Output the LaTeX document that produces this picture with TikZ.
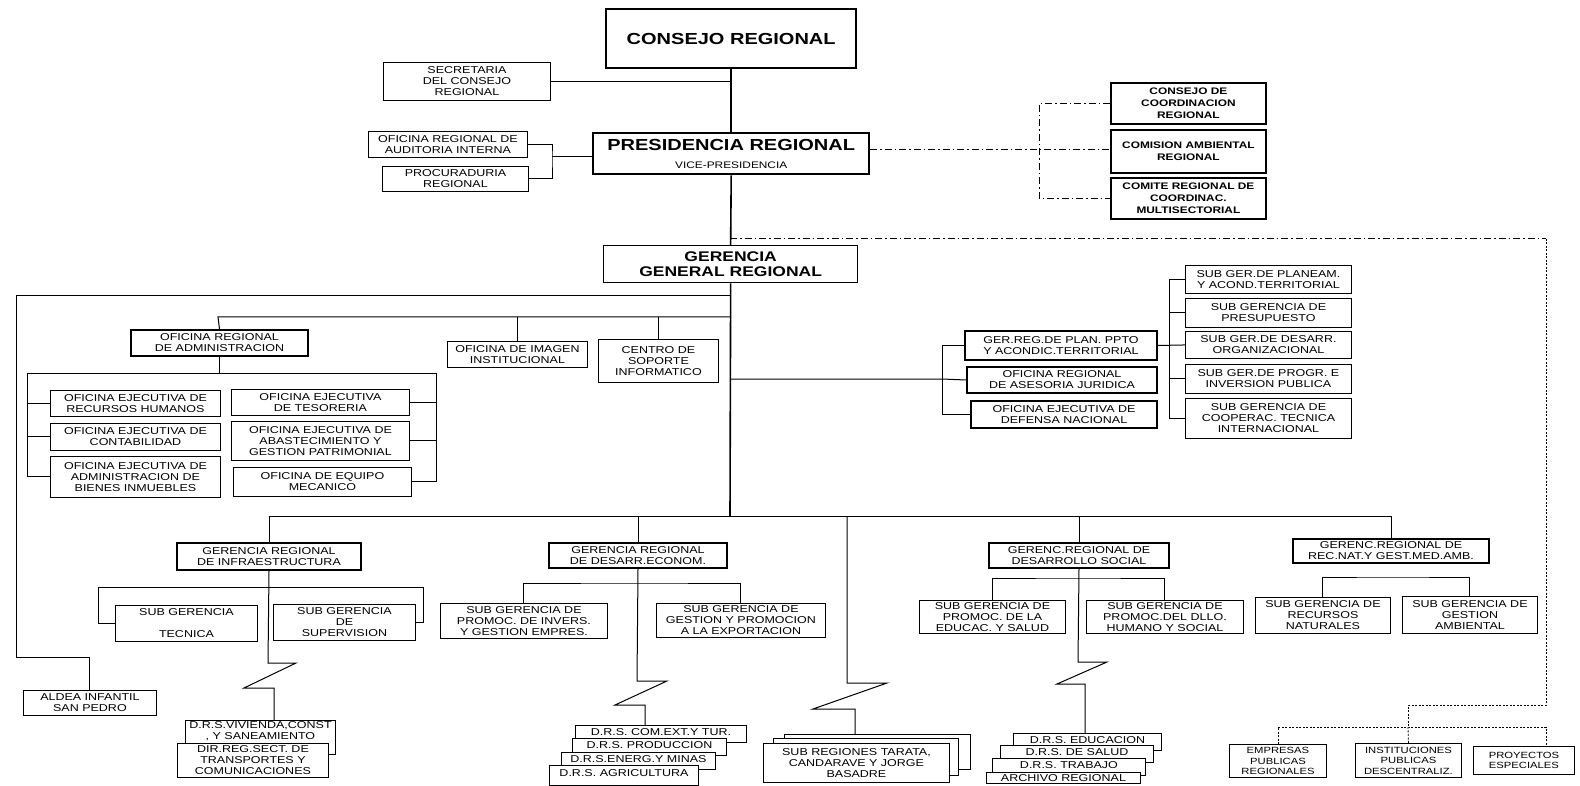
\documentclass[tikz,border=0pt]{standalone}
\usepackage{fontspec}
\setmainfont{Liberation Sans}[FakeStretch=1.25]

\tikzset{unit box/.style={draw,fill=white,anchor=north west,align=center,inner sep=1pt,line width=0.9pt,font=\fontsize{10}{11}\selectfont},
head box/.style={unit box,line width=2pt},
top box/.style={unit box,line width=2.4pt,font=\bfseries\fontsize{16}{18}\selectfont},
council box/.style={unit box,line width=1.8pt,font=\bfseries\fontsize{9.5}{12}\selectfont},
entity box/.style={unit box,font=\fontsize{9}{10.5}\selectfont},
stack box/.style={unit box,inner ysep=0pt,text height=10pt,text depth=7pt},
link/.style={line width=1pt},
spine/.style={line width=1.6pt},
coord link/.style={line width=1pt,dash pattern=on 7pt off 3pt on 1.5pt off 3pt},
fine link/.style={line width=0.8pt,dash pattern=on 2pt off 1.5pt}}

\begin{document}
\begin{tikzpicture}[x=1pt,y=-1pt]
\useasboundingbox (0,0) rectangle (1580,786);

%% upper levels
\node [top box,minimum width=250pt,minimum height=59pt] (consejo) at (605,8) {CONSEJO REGIONAL};
\node [unit box,minimum width=167pt,minimum height=38pt] (secret) at (383,62) {SECRETARIA\\DEL CONSEJO\\REGIONAL};
\node [unit box,minimum width=159pt,minimum height=26pt] (audit) at (368,131) {OFICINA REGIONAL DE\\AUDITORIA INTERNA};
\node [unit box,minimum width=146pt,minimum height=25pt] (procur) at (382,166) {PROCURADURIA\\REGIONAL};
\node [top box,minimum width=276pt,minimum height=41pt] (presid) at (592,132) {PRESIDENCIA REGIONAL\\{\mdseries\fontsize{9.5}{11}\selectfont VICE-PRESIDENCIA}};
\node [council box,minimum width=155pt,minimum height=41pt] (ccr) at (1110,82) {CONSEJO DE\\COORDINACION\\REGIONAL};
\node [council box,minimum width=155pt,minimum height=43pt] (car) at (1110,129) {COMISION AMBIENTAL\\REGIONAL};
\node [council box,minimum width=155pt,minimum height=41pt] (crc) at (1110,177) {COMITE REGIONAL DE\\COORDINAC.\\MULTISECTORIAL};
\node [unit box,line width=1.3pt,minimum width=254pt,minimum height=37pt,font=\bfseries\fontsize{14}{15.5}\selectfont] (gerg) at (603,245) {GERENCIA\\GENERAL REGIONAL};

%% administration
\node [head box,minimum width=177pt,minimum height=26pt] (admin) at (130,329) {OFICINA REGIONAL\\DE ADMINISTRACION};
\node [unit box,minimum width=140pt,minimum height=26pt] (imagen) at (447,341) {OFICINA DE IMAGEN\\INSTITUCIONAL};
\node [unit box,minimum width=120pt,minimum height=43pt] (centro) at (598,339) {CENTRO DE\\SOPORTE\\INFORMATICO};
\node [unit box,minimum width=170pt,minimum height=26pt] (rrhh) at (50,390) {OFICINA EJECUTIVA DE\\RECURSOS HUMANOS};
\node [unit box,minimum width=170pt,minimum height=27pt] (conta) at (50,423) {OFICINA EJECUTIVA DE\\CONTABILIDAD};
\node [unit box,minimum width=170pt,minimum height=41pt] (bienes) at (50,456) {OFICINA EJECUTIVA DE\\ADMINISTRACION DE\\BIENES INMUEBLES};
\node [unit box,minimum width=178pt,minimum height=26pt] (teso) at (231,389) {OFICINA EJECUTIVA\\DE TESORERIA};
\node [unit box,minimum width=178pt,minimum height=39pt] (abast) at (231,421) {OFICINA EJECUTIVA DE\\ABASTECIMIENTO Y\\GESTION PATRIMONIAL};
\node [unit box,minimum width=178pt,minimum height=29pt] (equipo) at (233,467) {OFICINA DE EQUIPO\\MECANICO};
\node [unit box,minimum width=133pt,minimum height=25pt] (aldea) at (23,690) {ALDEA INFANTIL\\SAN PEDRO};

%% advisory and planning
\node [head box,minimum width=192pt,minimum height=29pt] (plan) at (964,330) {GER.REG.DE PLAN. PPTO\\Y ACONDIC.TERRITORIAL};
\node [head box,minimum width=190pt,minimum height=26pt] (asesor) at (966,366) {OFICINA REGIONAL\\DE ASESORIA JURIDICA};
\node [head box,minimum width=186pt,minimum height=27pt] (defensa) at (970,400) {OFICINA EJECUTIVA DE\\DEFENSA NACIONAL};
\node [unit box,minimum width=166pt,minimum height=28pt] (planeam) at (1185,265) {SUB GER.DE PLANEAM.\\Y ACOND.TERRITORIAL};
\node [unit box,minimum width=166pt,minimum height=29pt] (presup) at (1185,298) {SUB GERENCIA DE\\PRESUPUESTO};
\node [unit box,minimum width=166pt,minimum height=27pt] (desarr) at (1185,331) {SUB GER.DE DESARR.\\ORGANIZACIONAL};
\node [unit box,minimum width=166pt,minimum height=29pt] (progr) at (1185,364) {SUB GER.DE PROGR. E\\INVERSION PUBLICA};
\node [unit box,minimum width=166pt,minimum height=40pt] (cooper) at (1185,398) {SUB GERENCIA DE\\COOPERAC. TECNICA\\INTERNACIONAL};

%% line managements
\node [head box,minimum width=184pt,minimum height=27pt] (infra) at (176,542) {GERENCIA REGIONAL\\DE INFRAESTRUCTURA};
\node [head box,minimum width=178pt,minimum height=25pt] (econ) at (548,542) {GERENCIA REGIONAL\\DE DESARR.ECONOM.};
\node [head box,minimum width=180pt,minimum height=25pt] (social) at (988,542) {GERENC.REGIONAL DE\\DESARROLLO SOCIAL};
\node [head box,minimum width=196pt,minimum height=24pt] (recnat) at (1292,538) {GERENC.REGIONAL DE\\REC.NAT.Y GEST.MED.AMB.};

\node [unit box,minimum width=142pt,minimum height=36pt] (tecnica) at (115,605) {SUB GERENCIA\\[11pt]TECNICA};
\node [unit box,minimum width=142pt,minimum height=36pt] (superv) at (273,604) {SUB GERENCIA\\DE\\SUPERVISION};
\node [unit box,minimum width=167pt,minimum height=35pt] (promoc) at (440,603) {SUB GERENCIA DE\\PROMOC. DE INVERS.\\Y GESTION EMPRES.};
\node [unit box,minimum width=169pt,minimum height=34pt] (export) at (656,603) {SUB GERENCIA DE\\GESTION Y PROMOCION\\A LA EXPORTACION};
\node [unit box,minimum width=146pt,minimum height=33pt] (educsal) at (919,600) {SUB GERENCIA DE\\PROMOC. DE LA\\EDUCAC. Y SALUD};
\node [unit box,minimum width=157pt,minimum height=33pt] (humano) at (1086,600) {SUB GERENCIA DE\\PROMOC.DEL DLLO.\\HUMANO Y SOCIAL};
\node [unit box,minimum width=135pt,minimum height=36pt] (recnatur) at (1255,597) {SUB GERENCIA DE\\RECURSOS\\NATURALES};
\node [unit box,minimum width=135pt,minimum height=37pt] (gestamb) at (1402,596) {SUB GERENCIA DE\\GESTION\\AMBIENTAL};

%% regional directorates (stacked)
\node [unit box,minimum width=150pt,minimum height=34pt,inner ysep=0pt,text depth=14pt] (vivienda) at (185,720) {D.R.S.VIVIENDA,CONST\\, Y SANEAMIENTO};
\node [unit box,minimum width=151pt,minimum height=34pt] (transp) at (177,743) {DIR.REG.SECT. DE\\TRANSPORTES Y\\COMUNICACIONES};
\node [stack box,minimum width=171pt] (comext) at (575,725) {D.R.S. COM.EXT.Y TUR.};
\node [stack box,minimum width=154pt] (produc) at (572,738) {D.R.S. PRODUCCION};
\node [stack box,minimum width=154pt] (energ) at (561,752) {D.R.S.ENERG.Y MINAS};
\node [stack box,minimum width=149pt,text height=11pt,text depth=9pt] (agri) at (549,765) {D.R.S. AGRICULTURA};
\node [unit box,minimum width=186pt,minimum height=35pt] (subreg3) at (784,734) {};
\node [unit box,minimum width=185pt,minimum height=37pt] (subreg2) at (773,738) {};
\node [unit box,minimum width=186pt,minimum height=39pt] (subreg1) at (763,743) {SUB REGIONES TARATA,\\CANDARAVE Y JORGE\\BASADRE};
\node [stack box,minimum width=148pt] (educ) at (1013,733) {D.R.S. EDUCACION};
\node [stack box,minimum width=153pt] (salud) at (1000,745) {D.R.S. DE SALUD};
\node [stack box,minimum width=153pt] (trab) at (992,758) {D.R.S. TRABAJO};
\node [stack box,minimum width=154pt,text height=9pt,text depth=2pt] (archivo) at (986,772) {ARCHIVO REGIONAL};

%% decentralised entities
\node [entity box,minimum width=97pt,minimum height=33pt] (empresas) at (1229,744) {EMPRESAS\\PUBLICAS\\REGIONALES};
\node [entity box,minimum width=106pt,minimum height=34pt] (instit) at (1355,743) {INSTITUCIONES\\PUBLICAS\\DESCENTRALIZ.};
\node [entity box,minimum width=101pt,minimum height=28pt] (proyect) at (1473,746) {PROYECTOS\\ESPECIALES};

%% Coordinates of junctions.
\coordinate (pj) at (552,157);
\coordinate (cj) at (1039,150);
\coordinate (gj) at (730,239);
\coordinate (rc) at (1546,239);
\coordinate (rb) at (1546,705);
\coordinate (ib) at (1408,705);
\coordinate (eb) at (1408,727);
\coordinate (fl) at (16,296);
\coordinate (fa) at (16,657);
\coordinate (al) at (218,317);
\coordinate (abl) at (27,373);
\coordinate (abr) at (436,373);
\coordinate (pl) at (942,379);
\coordinate (sb) at (1169,344.5);
\coordinate (bl) at (730,516);
\coordinate (ib1) at (98,587);
\coordinate (ib2) at (423,587);
\coordinate (ebr) at (637,583);
\coordinate (sbr) at (1078,578);
\coordinate (rbr) at (1390,577);
\coordinate (iza) at (268,663);
\coordinate (izb) at (274,688);
\coordinate (eza) at (637,681);
\coordinate (ezb) at (645,705);
\coordinate (sra) at (847,683);
\coordinate (srb) at (855,709);
\coordinate (sza) at (1078,662);
\coordinate (szb) at (1085,684);

%% main line of authority
\draw [spine] (consejo.south) -- (presid.north);
\draw [spine] (presid.south) -- (gerg.north);
\draw [spine] (gerg.south) -- (bl);
\draw [link] (secret.east) -- (secret.east -| consejo.south);
\draw [link] (audit.east) -| (pj) |- (procur.east);
\draw [link] (pj) -- (pj -| presid.west);

%% coordination (dash dot)
\draw [coord link] (presid.east |- cj) -- (car.west |- cj);
\draw [coord link] (ccr.west) -| (cj) |- (crc.west);
\draw [coord link] (gj) -- (rc);
\draw [fine link] (rc) -- (rb) -- (ib) -- (eb);
\draw [fine link] (empresas.north) |- (eb) -- (eb -| rb) -- (rb |- proyect.north);
\draw [fine link] (eb) -- (instit.north);

%% administration branch
\draw [link] (gerg.south |- fl) -- (fl) -- (fa) -| (aldea.north);
\draw [link] (gerg.south |- al) -- (al) -- (admin.north);
\draw [link] (imagen.north |- al) -- (imagen.north);
\draw [link] (centro.north |- al) -- (centro.north);
\draw [link] (admin.south) -- (admin.south |- abl);
\draw [link] (rrhh.west) -| (abl) -- (abr) |- (equipo.east);
\draw [link] (abl) |- (bienes.west);
\draw [link] (conta.west -| abl) -- (conta.west);
\draw [link] (teso.east -| abr) -- (teso.east);
\draw [link] (abast.east -| abr) -- (abast.east);

%% advisory branch
\draw [link] (gerg.south |- pl) -- (pl) -- (asesor.west);
\draw [link] (plan.west) -| (pl) |- (defensa.west);
\draw [link] (plan.east) -- (desarr.west);
\draw [link] (planeam.west) -| (sb) |- (cooper.west);
\draw [link] (presup.west -| sb) -- (presup.west);
\draw [link] (progr.west -| sb) -- (progr.west);

%% line branches
\draw [link] (infra.north |- bl) -- (recnat.north |- bl);
\draw [link] (infra.north |- bl) -- (infra.north);
\draw [link] (econ.north |- bl) -- (econ.north);
\draw [link] (social.north |- bl) -- (social.north);
\draw [link] (recnat.north |- bl) -- (recnat.north);

\draw [link] (tecnica.west) -| (ib1) -- (ib2) |- (superv.east);
\draw [link] (promoc.north) |- (ebr) -| (export.north);
\draw [link] (educsal.north) |- (sbr) -| (humano.north);
\draw [link] (recnatur.north) |- (rbr) -| (gestamb.north);

%% broken links to the directorates
\draw [link] (infra.south) -- (iza) -- ++(28,0) -- ++(-52,25) -- (izb) -- (izb |- vivienda.north);
\draw [link] (econ.south) -- (eza) -- ++(30,0) -- ++(-52,24) -- (ezb) -- (ezb |- comext.north);
\draw [link] (sra |- bl) -- (sra) -- ++(40,0) -- ++(-74,26) -- (srb) -- (srb |- subreg3.north);
\draw [link] (social.south) -- (sza) -- ++(29,0) -- ++(-50,22) -- (szb) -- (szb |- educ.north);

\end{tikzpicture}
\end{document}
